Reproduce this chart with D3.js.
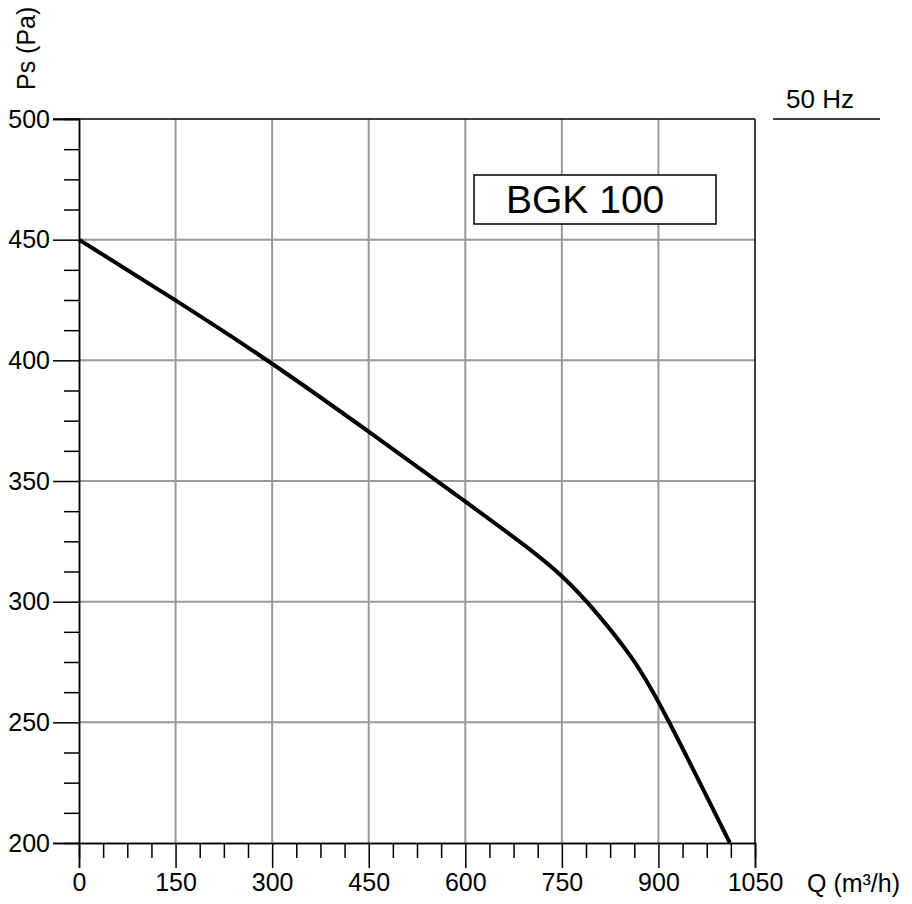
<!DOCTYPE html>
<html>
<head>
<meta charset="utf-8">
<script src="https://cdn.jsdelivr.net/npm/d3@7"></script>
<style>
  body { margin: 0; background: #fff; }
  text { font-family: "Liberation Sans", Arial, sans-serif; fill: #000; }
</style>
</head>
<body>
<div id="wrapper"></div>
<script>
// flow Q (m3/h) vs static pressure Ps (Pa)
const flowValues = [0, 150, 300, 450, 600, 700, 750, 800, 860, 900, 1011];
const pressureValues = [450, 425, 399, 370.5, 341.5, 322, 311, 297, 277, 259.5, 200];
const xTickValues = [0, 150, 300, 450, 600, 750, 900, 1050];
const yTickValues = [200, 250, 300, 350, 400, 450, 500];
const modelLabel = "BGK 100";
const freqLabel = "50 Hz";

const data = flowValues.map((q, i) => ({ q: q, p: pressureValues[i] }));

let dimensions = {
  width: 912,
  height: 904,
  margin: { top: 119, right: 157, bottom: 61, left: 79 },
}
dimensions.boundedWidth = dimensions.width - dimensions.margin.left - dimensions.margin.right;
dimensions.boundedHeight = dimensions.height - dimensions.margin.top - dimensions.margin.bottom;

const svg = d3.select("#wrapper").append("svg")
  .attr("width", dimensions.width)
  .attr("height", dimensions.height);

const bounds = svg.append("g")
  .attr("transform", `translate(${dimensions.margin.left},${dimensions.margin.top})`);

const xScale = d3.scaleLinear().domain([0, 1050]).range([0, dimensions.boundedWidth]);
const yScale = d3.scaleLinear().domain([200, 500]).range([dimensions.boundedHeight, 0]);

// grid
bounds.append("g").selectAll("line").data(xTickValues.slice(1, -1)).join("line")
  .attr("x1", d => xScale(d)).attr("x2", d => xScale(d))
  .attr("y1", 0).attr("y2", dimensions.boundedHeight)
  .attr("stroke", "#999").attr("stroke-width", 2);
bounds.append("g").selectAll("line").data(yTickValues.slice(1, -1)).join("line")
  .attr("x1", 0).attr("x2", dimensions.boundedWidth)
  .attr("y1", d => yScale(d)).attr("y2", d => yScale(d))
  .attr("stroke", "#999").attr("stroke-width", 2);

// frame top and right
bounds.append("line")
  .attr("x1", -26).attr("x2", dimensions.boundedWidth)
  .attr("y1", 0).attr("y2", 0)
  .attr("stroke", "#000").attr("stroke-width", 1.5);
bounds.append("line")
  .attr("x1", dimensions.boundedWidth).attr("x2", dimensions.boundedWidth)
  .attr("y1", 0).attr("y2", dimensions.boundedHeight)
  .attr("stroke", "#000").attr("stroke-width", 1.5);

// minor ticks
const yMinor = d3.range(200, 500, 12.5).filter(v => v % 50 !== 0);
const xMinor = d3.range(0, 1050, 37.5).filter(v => v % 150 !== 0);

const yMinorAxis = bounds.append("g")
  .call(d3.axisLeft(yScale).tickValues(yMinor).tickSize(15).tickFormat(""));
const xMinorAxis = bounds.append("g")
  .attr("transform", `translate(0,${dimensions.boundedHeight})`)
  .call(d3.axisBottom(xScale).tickValues(xMinor).tickSize(15).tickFormat(""));

// major axes
const yAxis = bounds.append("g")
  .call(d3.axisLeft(yScale).tickValues(yTickValues).tickSize(26).tickPadding(3).tickFormat(d3.format("d")));
const xAxis = bounds.append("g")
  .attr("transform", `translate(0,${dimensions.boundedHeight})`)
  .call(d3.axisBottom(xScale).tickValues(xTickValues).tickSize(25).tickPadding(5).tickFormat(d3.format("d")));

[yMinorAxis, xMinorAxis, yAxis, xAxis].forEach(a => {
  a.select(".domain").attr("stroke", "#000").attr("stroke-width", 1.5);
  a.selectAll(".tick line").attr("stroke", "#000").attr("stroke-width", 1.5);
});
yAxis.selectAll(".tick text")
  .style("font-size", "25px").style("font-family", "Liberation Sans, Arial, sans-serif");
xAxis.selectAll(".tick text")
  .style("font-size", "25px").style("font-family", "Liberation Sans, Arial, sans-serif");

// curve
const lineGenerator = d3.line()
  .x(d => xScale(d.q))
  .y(d => yScale(d.p))
  .curve(d3.curveBasis);
bounds.append("path")
  .attr("d", lineGenerator(data))
  .attr("fill", "none")
  .attr("stroke", "#000")
  .attr("stroke-width", 4);

// model box
bounds.append("rect")
  .attr("x", 395).attr("y", 56)
  .attr("width", 242).attr("height", 49)
  .attr("fill", "#fff").attr("stroke", "#000").attr("stroke-width", 1.5);
bounds.append("text")
  .attr("x", 427).attr("y", 94)
  .style("font-size", "39px")
  .text(modelLabel);

// axis titles
svg.append("text")
  .attr("transform", "translate(35,90) rotate(-90)")
  .style("font-size", "25px")
  .text("Ps (Pa)");
svg.append("text")
  .attr("x", 807).attr("y", 892)
  .style("font-size", "25px")
  .text("Q (m³/h)");

// frequency label
svg.append("text")
  .attr("x", 786).attr("y", 108)
  .style("font-size", "26px")
  .text(freqLabel);
svg.append("line")
  .attr("x1", 773).attr("x2", 880)
  .attr("y1", 119).attr("y2", 119)
  .attr("stroke", "#000").attr("stroke-width", 1.5);
</script>
</body>
</html>
